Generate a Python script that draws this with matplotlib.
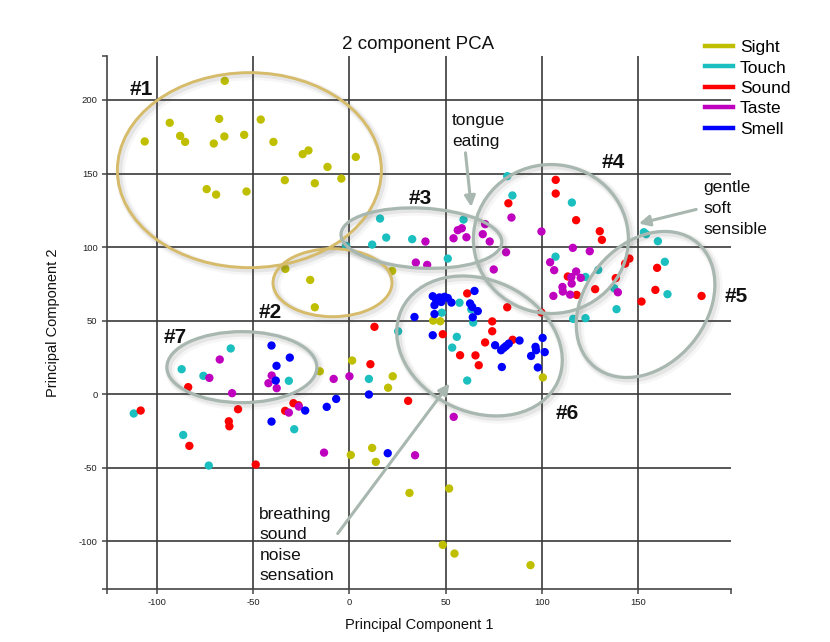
import matplotlib
matplotlib.use('Agg')
import matplotlib.pyplot as plt
from matplotlib.patches import Ellipse
from matplotlib.transforms import Affine2D, ScaledTranslation
from matplotlib.lines import Line2D

plt.rcParams['font.family'] = ['Liberation Sans', 'DejaVu Sans']
plt.rcParams['axes.unicode_minus'] = False

# ---------------- data ----------------
series_names = ['Sight', 'Touch', 'Sound', 'Taste', 'Smell']
series_colors = ['#BFBF00', '#1CBFBF', '#FF0000', '#BF00BF', '#0000FF']

sight_x = [-106.4, -93.4, -88.0, -85.4, -64.8, -67.7, -70.5, -65.0, -74.2, -69.3,
           -53.5, -54.7, -46.1, -39.5, -33.6, -24.3, -21.3, -18.0, -11.4, -4.2,
           3.3, -33.3, -20.4, -18.0, 22.2, 43.5, 47.2, 22.5, 20.1, 100.5,
           -15.4, 1.4, 0.7, 11.8, 13.7, 31.2, 51.8, 48.5, 54.6, 94.1]
sight_y = [171.8, 184.5, 175.6, 171.5, 213.0, 187.2, 170.4, 175.2, 139.4, 135.7,
           137.8, 176.3, 186.7, 171.5, 145.5, 163.2, 165.7, 143.4, 154.5, 146.6,
           161.3, 85.2, 77.7, 59.1, 83.8, 50.0, 49.6, 12.2, 4.4, 11.4,
           15.6, 22.9, -41.3, -36.5, -46.0, -67.1, -64.1, -102.4, -108.3, -116.2]

touch_x = [15.9, 19.1, 11.8, -1.7, 32.6, 59.3, 51.1, 82.0, 84.7, 115.6,
           107.1, 129.3, 122.7, 137.6, 138.8, 116.3, 122.7, 153.0, 154.2, 160.3,
           163.9, 165.3, 57.2, 63.3, 64.3, 48.0, 55.8, 53.4, 61.2, 25.3,
           -112.1, -87.2, -75.9, -61.7, -31.5, -86.4, -73.1, -28.7, 10.1]
touch_y = [119.4, 106.5, 101.7, 100.8, 105.4, 118.7, 92.2, 148.2, 135.1, 130.3,
           93.5, 84.5, 79.7, 72.1, 57.8, 51.2, 51.7, 110.1, 108.8, 104.0,
           90.0, 68.0, 62.2, 57.7, 48.7, 55.4, 39.0, 31.7, 9.3, 42.8,
           -13.1, 17.0, 12.5, 31.1, 9.1, -27.7, -48.5, -23.8, 10.4]

sound_x = [107.2, 107.2, 82.6, 117.8, 130.1, 131.2, 145.5, 143.3, 159.9, 159.0,
           151.8, 183.0, 138.4, 127.7, 118.1, 113.5, 61.2, 82.0, 99.7, 74.2,
           74.2, 48.5, 70.5, 84.8, 57.5, 65.5, 67.2, 13.0, 10.9, 30.5,
           -108.5, -83.8, -83.2, -62.7, -62.4, -57.9, -48.7, -33.4, -29.1, -26.5]
sound_y = [145.7, 136.4, 129.8, 118.3, 110.8, 104.9, 92.2, 88.8, 85.9, 70.9,
           63.0, 66.8, 78.9, 71.4, 67.5, 80.0, 68.5, 59.1, 55.6, 49.5,
           42.8, 40.8, 35.2, 37.0, 26.5, 26.4, 19.7, 45.8, 20.4, -4.5,
           -11.1, 4.8, -35.1, -18.4, -21.8, -10.2, -47.8, -11.3, -6.1, -7.5]

taste_x = [39.5, 34.5, 40.4, 54.1, 56.3, 58.4, 60.8, 69.3, 72.9, 70.5,
           84.2, 81.4, 75.0, 99.8, 116.1, 124.9, 104.3, 106.4, 117.8, 115.3,
           120.2, 115.5, 110.7, 110.9, 106.0, 114.7, 139.5, 54.2, 34.1, -67.4,
           -72.8, -61.0, -40.4, -42.1, -37.8, -31.5, -26.3, -8.2, 0.0, -13.2]
taste_y = [103.8, 89.5, 87.9, 106.0, 111.5, 112.8, 106.7, 108.8, 103.8, 115.6,
           120.1, 96.5, 84.8, 110.6, 99.5, 97.2, 89.7, 84.3, 83.4, 79.6,
           79.1, 75.2, 72.9, 69.8, 66.8, 67.7, 69.3, -15.4, -41.5, 23.6,
           11.1, 0.7, 12.7, 7.5, 4.1, -12.5, -8.4, 10.4, 12.2, -39.7]

smell_x = [43.3, 45.0, 46.8, 44.2, 49.4, 51.1, 47.7, 53.0, 44.2, 33.8,
           43.3, 65.0, 62.7, 63.8, 66.7, 64.1, 75.7, 78.8, 80.2, 81.4,
           82.8, 88.4, 79.2, 100.4, 96.7, 97.0, 101.5, 94.4, 97.9,
           -40.5, -37.9, -31.0, -38.3, -40.5, -23.0, -11.8, -6.9, 10.1, 19.9]
smell_y = [66.6, 64.3, 65.8, 60.5, 66.2, 65.4, 62.7, 62.3, 54.5, 52.5,
           40.1, 70.2, 61.7, 59.3, 56.5, 52.3, 33.3, 29.9, 31.5, 32.8,
           34.4, 36.5, 18.5, 38.3, 32.2, 29.9, 28.6, 26.0, 18.2,
           33.1, 19.3, 24.9, 9.3, -18.6, -11.1, -8.6, -3.2, -0.2, -40.1]

series_x = [sight_x, touch_x, sound_x, taste_x, smell_x]
series_y = [sight_y, touch_y, sound_y, taste_y, smell_y]

x_ticks = [-100, -50, 0, 50, 100, 150]
y_ticks = [-100, -50, 0, 50, 100, 150, 200]
x_limits = (-126.0, 198.3)
y_limits = (-132.4, 229.9)

# cluster labels (text, x, y)
cluster_labels = ['#1', '#2', '#3', '#4', '#5', '#6', '#7']
cluster_label_x = [-108.1, -41.3, 36.6, 136.9, 201.1, 113.3, -90.6]
cluster_label_y = [203.3, 52.1, 129.6, 154.1, 62.8, -17.0, 35.1]

# ---------------- figure ----------------
fig = plt.figure(figsize=(8.3, 6.42), dpi=100)
ax = fig.add_axes([107 / 830, 53 / 642, 624 / 830, 533 / 642])
ax.set_xlim(*x_limits)
ax.set_ylim(*y_limits)

for xs, ys, c in zip(series_x, series_y, series_colors):
    ax.scatter(xs, ys, s=36, color=c, edgecolors='none', zorder=2)

ax.set_xticks(x_ticks)
ax.set_yticks(y_ticks)
ax.set_xticks(list(x_limits), minor=True)
ax.set_yticks(list(y_limits), minor=True)
ax.set_axisbelow(True)
ax.grid(True, which='major', color='#3a3a3a', lw=1.2)
ax.tick_params(which='both', direction='out', length=3.8, width=1.1,
               color='#444444', labelsize=6.8, labelcolor='#222222', pad=3)
for side in ['top', 'right']:
    ax.spines[side].set_visible(False)
for side in ['left', 'bottom']:
    ax.spines[side].set_color('#444444')
    ax.spines[side].set_linewidth(1.2)

ax.set_xlabel('Principal Component 1', fontsize=10.5, color='#111111')
ax.set_ylabel('Principal Component 2', fontsize=10.5, color='#111111')
ax.xaxis.set_label_coords(0.5, -0.0537)
ax.yaxis.set_label_coords(-0.076, 0.5)

fig.text(418 / 830, 1 - 49 / 642, '2 component PCA', ha='center',
         va='baseline', fontsize=13.5, color='#111111')

# ---------------- cluster ellipses ----------------
gold = '#D6BC6A'
sage = '#A8B7B0'


def ring(cx, cy, w, h, ang, color, lw):
    for dx, dy, extra, alpha in [(3.0, -3.0, 4.5, 0.05), (2.0, -2.0, 2.0, 0.10)]:
        tr = Affine2D().translate(dx, dy) + ScaledTranslation(cx, cy, ax.transData)
        ax.add_patch(Ellipse((0, 0), w, h, angle=ang, transform=tr, fill=False,
                             ec='#555555', lw=lw + extra, alpha=alpha, zorder=3))
    tr = Affine2D() + ScaledTranslation(cx, cy, ax.transData)
    ax.add_patch(Ellipse((0, 0), w, h, angle=ang, transform=tr, fill=False,
                         ec=color, lw=lw, zorder=4))


ring(-52.0, 152.3, 264, 195, 0, gold, 2.1)
ring(-8.8, 75.8, 119, 68, 0, gold, 2.1)
ring(37.4, 106.1, 161, 60, -3, sage, 2.3)
ring(104.7, 105.5, 155, 149, 0, sage, 2.3)
ring(153.9, 61.0, 161, 121, 50.4, sage, 2.3)
ring(67.6, 32.8, 172, 132, -25, sage, 2.3)
ring(-55.9, 18.4, 150, 71, 0, sage, 2.3)

for t, x, y in zip(cluster_labels, cluster_label_x, cluster_label_y):
    ax.text(x, y, t, ha='center', va='baseline', fontsize=15, fontweight='bold',
            color='#111111', zorder=6, clip_on=False)

# ---------------- annotations ----------------
arrow_kw = dict(arrowstyle='-|>', color=sage, lw=2.2, mutation_scale=16,
                shrinkA=0, shrinkB=0)
ax.annotate('', xy=(63.3, 127.3), xytext=(60.3, 164.1), arrowprops=arrow_kw,
            zorder=5)
ax.annotate('', xy=(150.4, 116.0), xytext=(180.2, 125.6), arrowprops=arrow_kw,
            zorder=5)
ax.annotate('', xy=(52.0, 7.3), xytext=(-6.1, -94.7), arrowprops=arrow_kw,
            zorder=5)

note_lines = [
    (['tongue', 'eating'], 53.2, [182.9, 168.8]),
    (['gentle', 'soft', 'sensible'], 184.0, [137.5, 123.3, 109.2]),
    (['breathing', 'sound', 'noise', 'sensation'], -46.8, [-84.5, -98.6, -112.4, -126.5]),
]
for words, x, ys in note_lines:
    for w, y in zip(words, ys):
        ax.text(x, y, w, ha='left', va='baseline', fontsize=12.5,
                color='#111111', zorder=6, clip_on=False)

# ---------------- legend ----------------
handles = [Line2D([], [], color=c, lw=3.2) for c in series_colors]
fig.legend(handles, series_names, loc='upper left',
           bbox_to_anchor=(705 / 830, 1 - 40 / 642), frameon=False,
           borderpad=0, borderaxespad=0, handlelength=1.6, handletextpad=0.4,
           labelspacing=0.30, fontsize=12.5)

fig.savefig('out.png', dpi=100)
